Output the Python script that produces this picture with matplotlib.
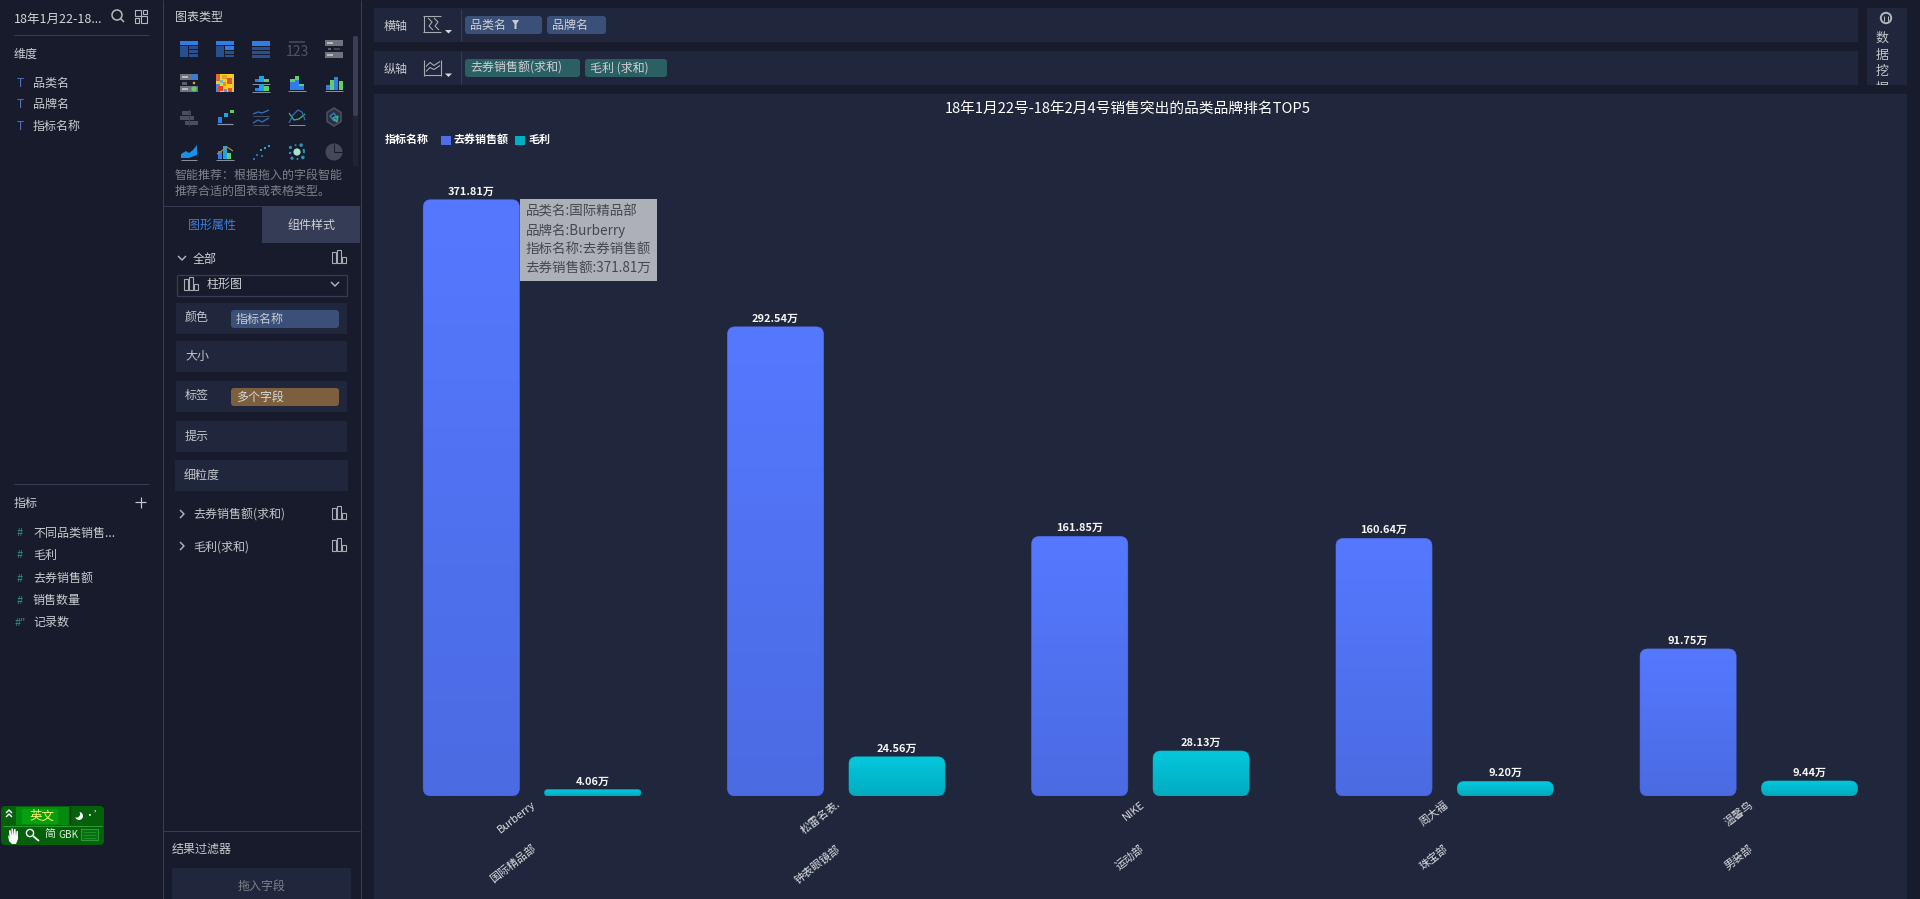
import numpy as np
import matplotlib
matplotlib.use("Agg")
import matplotlib.pyplot as plt
from matplotlib.patches import Rectangle, FancyBboxPatch, Circle, Polygon, Wedge
from matplotlib.transforms import ScaledTranslation

plt.rcParams['font.family'] = ['Noto Sans CJK SC', 'DejaVu Sans']

# ---------- data ----------
categories = ['国际精品部', '钟表眼镜部', '运动部', '珠宝部', '男装部']
brands = ['Burberry', '松雷名表.', 'NIKE', '周大福', '温馨鸟']
sales = [371.81, 292.54, 161.85, 160.64, 91.75]
profit = [4.06, 24.56, 28.13, 9.20, 9.44]
series_names = ['去券销售额', '毛利']
legend_title = '指标名称'
chart_title = '18年1月22号-18年2月4号销售突出的品类品牌排名TOP5'

W, H = 1920, 899
BG = '#181b2b'; PANEL = '#20263b'; LINE = '#363c55'
TXT = '#c9cbd1'; GREY = '#7e818b'

fig = plt.figure(figsize=(W / 100, H / 100), dpi=100, facecolor=BG)
ui = fig.add_axes([0, 0, 1, 1], zorder=0)
ui.set_xlim(0, W); ui.set_ylim(H, 0); ui.axis('off')

def px(s):
    return s * 0.72

def rect(x0, y0, x1, y1, c, z=1, **kw):
    ui.add_patch(Rectangle((x0, y0), x1 - x0, y1 - y0, fc=c, ec='none', zorder=z, **kw))

def rrect(x0, y0, x1, y1, c, r=3, z=2):
    ui.add_patch(FancyBboxPatch((x0, y0), x1 - x0, y1 - y0, boxstyle=f'round,pad=0,rounding_size={r}',
                                fc=c, ec='none', zorder=z))

def txt(x, y, s, c=TXT, size=12, ha='left', weight='normal', z=5):
    return ui.text(x, y + 1.5, s, color=c, fontsize=px(size), ha=ha, va='center', fontweight=weight, zorder=z)

def line(xs, ys, c=LINE, lw=1.0, z=3):
    ui.plot(xs, ys, color=c, lw=lw * 0.72, zorder=z, solid_capstyle='butt')

def bar_icon(cx, cy, c='#a9abb2'):
    for dx, h in [(-5, 11), (0, 13), (5, 6)]:
        ui.add_patch(Rectangle((cx + dx - 1.8, cy + 6 - h), 3.6, h, fc='none', ec=c, lw=0.8, zorder=4))

def chevron_down(cx, cy, c='#b5b7bd', s=4):
    line([cx - s, cx, cx + s], [cy - s / 2, cy + s / 2, cy - s / 2], c, 1.4)

def chevron_right(cx, cy, c='#b5b7bd', s=4):
    line([cx - s / 2, cx + s / 2, cx - s / 2], [cy - s, cy, cy + s], c, 1.4)

# ---------- panels ----------
line([162.5, 162.5], [0, H]); line([360.5, 360.5], [0, H])
line([14, 149], [35, 35]); line([14, 149], [484, 484])
line([163, 360], [206, 206]); line([163, 360], [831, 831])
rect(374, 8, 1858, 42, PANEL); rect(374, 51, 1858, 85, PANEL)
rect(1867, 8, 1907, 85, PANEL); rect(374, 94, 1907, H, PANEL)

# ---------- left column ----------
txt(14, 18, '18年1月22-18...', '#d5d6da', 12.5)
ui.add_patch(Circle((117, 15), 5, fc='none', ec='#b5b7bd', lw=1.1, zorder=4))
line([120.5, 124], [18.5, 22], '#b5b7bd', 1.5)
for (a, b, c_, d) in [(135, 10, 141, 16), (141, 16, 147, 23), (135, 18, 139, 23), (143, 10, 147, 14)]:
    ui.add_patch(Rectangle((a, b), c_ - a, d - b, fc='none', ec='#b5b7bd', lw=0.8, zorder=4))
txt(14, 53, '维度', TXT, 12)
for y, s in zip([82, 103, 125], ['品类名', '品牌名', '指标名称']):
    txt(20, y, 'T', '#4d71b8', 12, ha='center'); txt(33, y, s)
txt(14, 502, '指标', TXT, 12)
line([135, 146], [502, 502], '#c4c6cc', 1.2); line([140.5, 140.5], [496.5, 507.5], '#c4c6cc', 1.2)
for y, s, h in zip([532, 554, 577, 599, 621], ['不同品类销售...', '毛利', '去券销售额', '销售数量', '记录数'],
                   ['#', '#', '#', '#', '#"']):
    txt(20, y, h, '#2f8f88', 11, ha='center'); txt(33, y, s)

# IME bar
rrect(1, 806, 104, 845, '#04600a', 4)
rect(16, 807, 69, 825, '#048a0c', 3)
rect(22, 809, 58, 824, '#05a00f', 3)
line([69.5, 69.5], [807, 825], '#023a06', 1.2, 4)
line([3, 102], [826, 826], '#2c9a34', 1, 4)
txt(42, 814.5, '英文', '#f4f46a', 12.5, ha='center')
for off in (0, 4):
    line([6, 9, 12], [813 + off, 810 + off, 813 + off], '#ffffff', 1.4, 5)
ui.add_patch(Circle((79, 816), 4, fc='#ffffff', zorder=5))
ui.add_patch(Circle((76.5, 814), 3.6, fc='#04600a', zorder=6))
txt(94, 814, '•’', '#ffffff', 10, ha='center')
# hand glyph
ui.add_patch(Polygon([(8, 835), (9, 841), (12, 844), (16, 844), (18, 839), (18, 831), (16.5, 831), (16, 836), (15.5, 829), (14, 829),
                      (13.5, 836), (13, 828.5), (11.5, 828.5), (11.5, 836), (10.5, 830), (9, 830.5), (9.5, 837)],
                     fc='#ffffff', ec='none', zorder=5))
ui.add_patch(Circle((30, 833), 3.6, fc='none', ec='#ffffff', lw=1, zorder=5)); line([33, 39], [836, 841], '#ffffff', 1.8, 5)
txt(50, 833, '简', '#d8f0d8', 11, ha='center'); txt(68, 833.5, 'GBK', '#d8f0d8', 10, ha='center')
ui.add_patch(Rectangle((81, 829), 17, 11, fc='#05700c', ec='#2c9a34', lw=0.8, zorder=5))
for d in (832, 835, 838):
    line([83, 96], [d, d], '#2c9a34', 0.7, 6)

# ---------- chart-type gallery ----------
txt(175, 16, '图表类型', '#d0d1d6', 12)
rect(353, 36, 358, 166, '#1f2335'); rrect(353, 36, 358, 116, '#3a3f55', 2)
cols = [189, 225, 261, 297, 334]; rows = [49, 83, 117, 152]
BLUE = '#2f7de6'; NAVY = '#27508f'; GRN = '#5fcf6a'; SKY = '#19a6e8'; G2 = '#8b8e98'; G3 = '#4a4e5e'

cx, cy = cols[0], rows[0]
rect(cx - 9, cy - 8, cx + 9, cy - 4, BLUE, 4); rect(cx - 9, cy - 3, cx - 1, cy + 8, NAVY, 4)
for d in (-3, 1, 5): rect(cx, cy + d, cx + 9, cy + d + 3, NAVY, 4)
cx = cols[1]
rect(cx - 9, cy - 8, cx + 9, cy - 4, BLUE, 4); rect(cx - 9, cy - 3, cx - 1, cy + 8, NAVY, 4); rect(cx, cy - 3, cx + 9, cy + 1, BLUE, 4)
rect(cx, cy + 2, cx + 9, cy + 5, NAVY, 4); rect(cx, cy + 6, cx + 9, cy + 8, NAVY, 4)
cx = cols[2]
rect(cx - 9, cy - 8, cx + 9, cy - 3, BLUE, 4)
for dx in (-9, -3, 3):
    for d in (-2, 2, 6): rect(cx + dx, cy + d, cx + dx + 5.5, cy + d + 3, NAVY, 4)
cx = cols[3]
line([cx - 8, cx + 8], [cy - 7, cy - 7], G3, 1.5); txt(cx, cy + 1, '123', '#4f5363', 14, ha='center')
cx = cols[4]
rect(cx - 9, cy - 9, cx + 9, cy - 3, '#70737d', 4); rect(cx - 7, cy - 7, cx - 1, cy - 5, '#b8bac0', 5)
rect(cx - 9, cy + 3, cx + 9, cy + 9, '#70737d', 4); rect(cx - 7, cy + 5, cx - 1, cy + 7, '#b8bac0', 5)
rect(cx - 6, cy - 1, cx - 3, cy + 1, '#5c606d', 4); rect(cx, cy - 1, cx + 6, cy + 1, '#3e4252', 4)
cx, cy = cols[0], rows[1]
rect(cx - 9, cy - 9, cx + 9, cy - 3, '#70737d', 4); rect(cx - 9, cy + 3, cx + 9, cy + 9, '#70737d', 4)
ui.add_patch(Circle((cx + 5, cy - 6), 3, fc=BLUE, zorder=5)); ui.add_patch(Circle((cx + 5, cy + 6), 2.6, fc=GRN, zorder=5))
rect(cx - 7, cy - 1, cx - 2, cy + 1.5, '#5c606d', 5); ui.add_patch(Circle((cx + 5, cy), 1.3, fc='#f0a020', zorder=5))
rect(cx - 7, cy - 7, cx - 1, cy - 5, '#b8bac0', 5); rect(cx - 7, cy + 5, cx - 1, cy + 7, '#b8bac0', 5)
cx = cols[1]
rect(cx - 9, cy - 9, cx + 9, cy + 9, '#f6d21c', 4)
for (a, b, c_, d, col) in [(-9, -9, -5, -2, '#e8643a'), (-3, -8, 2, -4, '#e8a030'), (2, -5, 7, 1, '#e5522d'), (-9, 1, -5, 9, '#3f8fe0'), (-7, 3, -2, 8, '#e5452d'),
                           (-2, -1, 1, 3, '#f08a24'), (3, 5, 9, 9, '#e5522d'), (-1, 6, 2, 9, '#6a90d0'), (7, -9, 9, 9, '#d8c840'), (-5, -3, -2, 0, '#6ac0c0')]:
    rect(cx + a, cy + b, cx + c_, cy + d, col, 5)
cx = cols[2]
for dx, up, dn, c_ in [(-6, 3, 3, BLUE), (-2, 6, 7, SKY), (3, 3, 5, GRN)]:
    rect(cx + dx, cy - 1 - up, cx + dx + 4.5, cy - 1, c_, 4); rect(cx + dx, cy + 8 - dn, cx + dx + 4.5, cy + 8, c_, 4)
line([cx - 9, cx + 9], [cy + 0.5, cy + 0.5], G2, 1); line([cx - 9, cx + 9], [cy + 8.5, cy + 8.5], G2, 1)
cx = cols[3]
for dx, a, b in [(-7, 3, 8), (-2.5, 4, 10), (2, 2, 4)]:
    rect(cx + dx, cy + 7 - b, cx + dx + 4.5, cy + 7, BLUE, 4); rect(cx + dx, cy + 7 - b - a, cx + dx + 4.5, cy + 7 - b, GRN, 4)
line([cx - 9, cx + 9], [cy + 8, cy + 8], G2, 1)
cx = cols[4]
for dx, h, c_ in [(-8, 5, BLUE), (-4, 10, GRN), (0, 13, BLUE), (5, 9, GRN)]:
    rect(cx + dx, cy + 7 - h, cx + dx + 3.6, cy + 7, c_, 4)
line([cx - 9, cx + 9], [cy + 8, cy + 8], G2, 1)
cx, cy = cols[0], rows[2]
for d, a, b in [(-6, -7, 2), (-1, -9, 5), (4, -4, 9)]:
    rect(cx + a, cy + d, cx + b, cy + d + 3.5, '#4a4e5e', 4)
line([cx - 0.5, cx - 0.5], [cy - 8, cy + 9], '#3a3e4e', 1, 5)
cx = cols[1]
for (a, b, c_, d, col) in [(-7, 0, -3, 6, BLUE), (-1, -4, 3, 0, SKY), (5, -7, 9, -4, GRN)]:
    rect(cx + a, cy + b, cx + c_, cy + d, col, 4)
line([cx - 8, cx + 8], [cy + 7, cy + 7], G2, 1.2)
cx = cols[2]
line([cx - 8, cx - 3, cx + 1, cx + 8], [cy - 3, cy - 5, cy - 4, cy - 7], '#2d6bb4', 1.4)
line([cx - 8, cx - 3, cx + 1, cx + 8], [cy + 6, cy + 3, cy + 5, cy + 1], '#2d6bb4', 1.4)
line([cx - 8, cx + 8], [cy - 1, cy - 1], G3, 1); line([cx - 8, cx + 8], [cy + 8, cy + 8], G3, 1)
cx = cols[3]
line([cx - 8, cx - 3, cx + 2, cx + 8], [cy - 4, cy + 3, cy + 2, cy - 3], '#3ab37c', 1.3)
line([cx - 8, cx - 4, cx + 1, cx + 5, cx + 8], [cy + 6, cy - 2, cy - 7, cy - 5, cy + 3], '#2d6bb4', 1.3)
line([cx - 8, cx + 8], [cy + 8, cy + 8], G2, 1)
cx = cols[4]
hex_pts = [(cx + 8 * np.sin(a), cy + 9 * np.cos(a)) for a in np.linspace(0, 2 * np.pi, 7)[:-1]]
ui.add_patch(Polygon(hex_pts, fc='#2a2e3e', ec='#4a4e5e', lw=1.2, zorder=4))
ui.add_patch(Polygon([(cx - 4, cy - 1), (cx, cy - 4), (cx + 3, cy + 1), (cx, cy + 4)], fc='none', ec='#2d7bd6', lw=1, zorder=5))
ui.add_patch(Polygon([(cx - 1, cy + 1), (cx + 4, cy - 1), (cx + 3, cy + 5)], fc='none', ec='#3ab37c', lw=1, zorder=5))
cx, cy = cols[0], rows[3]
ui.add_patch(Polygon([(cx - 8, cy + 6), (cx - 8, cy + 2), (cx - 3, cy - 1), (cx, cy + 1), (cx + 4, cy - 2), (cx + 8, cy - 7), (cx + 8, cy + 3), (cx, cy + 6)],
                     fc='#1b8fe6', ec='none', zorder=4))
line([cx - 8, cx + 8], [cy + 8, cy + 8], G2, 1)
cx = cols[1]
for dx, h, c_ in [(-7, 8, BLUE), (-2.5, 13, SKY), (2, 6, GRN)]:
    rect(cx + dx, cy + 7 - h, cx + dx + 4.2, cy + 7, c_, 4)
line([cx - 8, cx - 2, cx + 2, cx + 8], [cy + 2, cy - 2, cy - 5, cy - 1], '#b08a2c', 1.2, 5)
line([cx - 9, cx + 9], [cy + 8, cy + 8], G2, 1)
cx = cols[2]
for dx, dy, c_ in [(-8, 6, '#2d6bb4'), (-5, 2, '#2d6bb4'), (-1, -3, '#3aa0a0'), (0, 3, '#2d6bb4'), (3, -5, '#3aa0a0'), (7, -7, SKY)]:
    rect(cx + dx, cy + dy, cx + dx + 2.2, cy + dy + 2.2, c_, 4)
cx = cols[3]
ui.add_patch(Circle((cx, cy), 3.6, fc='#a6e3cc', zorder=4))
for a, r_, s_ in zip(np.linspace(0, 6, 9), [7, 8, 7, 8, 7, 8, 7, 8, 7], [1.2, 1.8, 1, 1.6, 1.2, 1.6, 1, 1.8, 1.2]):
    ui.add_patch(Circle((cx + r_ * np.cos(a), cy + r_ * np.sin(a)), s_, fc='#2f8fb8', zorder=4))
ui.add_patch(Wedge((cols[4], cy), 8.5, -90, 270, fc='#444858', ec='none', zorder=4))
line([cols[4], cols[4], cols[4] + 8.5], [cy - 8.5, cy, cy], BG, 1, 5)
txt(175, 174, '智能推荐：根据拖入的字段智能', GREY, 12); txt(175, 190, '推荐合适的图表或表格类型。', GREY, 12)

# ---------- properties ----------
rect(262, 206.5, 360, 243, '#353c55')
txt(212, 223.5, '图形属性', '#3d80e0', 12, ha='center'); txt(311, 223.5, '组件样式', '#d0d1d6', 12, ha='center')
chevron_down(182, 258); txt(193, 257.5, '全部', '#d0d1d6', 12); bar_icon(339, 257)
ui.add_patch(Rectangle((176.5, 274.5), 170, 21, fc='none', ec=LINE, lw=0.9, zorder=3))
bar_icon(191, 284); txt(207, 282.5, '柱形图', '#d0d1d6', 12); chevron_down(335, 284)
for y0, y1, s, xa, xb in [(303, 334, '颜色', 176, 347), (341, 372, '大小', 176, 347), (381, 412, '标签', 176, 347),
                          (421, 452, '提示', 176, 347), (460, 491, '细粒度', 175, 348)]:
    rect(xa, y0, xb, y1, PANEL, 1)
    txt(xa + 9, (y0 + y1) / 2 - 2, s, '#c4c6cc', 12)
rrect(231, 310, 339, 328, '#3b5078', 3); txt(236, 317.5, '指标名称', '#c9cbd1', 12)
rrect(231, 388, 339, 406, '#7b5f3e', 3); txt(236, 395.5, '多个字段', '#d8d8d8', 12)
for y, s in [(514, '去券销售额(求和)'), (546, '毛利(求和)')]:
    chevron_right(182, y); txt(193, y - 0.5, s, '#c4c6cc', 12); bar_icon(339, y - 1)
txt(172, 848, '结果过滤器', '#c9cbd1', 12)
rect(172, 868, 351, H, PANEL); txt(261.5, 885, '拖入字段', GREY, 12, ha='center')

# ---------- shelves ----------
def shelf_icon(cx, cy, wavy):
    c = '#a9abb2'
    if wavy:
        line([cx - 8, cx + 9], [cy + 7.5, cy + 7.5], c, 1.1)
        line([cx - 8, cx - 8], [cy - 8, cy + 8], c, 1.1); line([cx + 9, cx + 9], [cy - 8, cy + 8], c, 1.1)
        line([cx - 6, cx - 2, cx + 2, cx + 8], [cy - 1, cy - 5, cy - 2, cy - 6], c, 1.1)
        line([cx - 6, cx - 2, cx + 2, cx + 8], [cy + 4, cy, cy + 2, cy - 2], c, 1.1)
    else:
        line([cx - 9, cx + 9], [cy - 8, cy - 8], c, 1.1); line([cx - 9, cx + 9], [cy + 8, cy + 8], c, 1.1)
        line([cx - 8, cx - 8], [cy - 8, cy + 8], c, 1.1)
        line([cx - 4, cx + 0, cx - 3, cx + 1], [cy - 6, cy - 2, cy + 2, cy + 6], c, 1.1)
        line([cx + 2, cx + 6, cx + 3, cx + 7], [cy - 6, cy - 2, cy + 2, cy + 6], c, 1.1)
    ui.add_patch(Polygon([(cx + 13, cy + 6), (cx + 20, cy + 6), (cx + 16.5, cy + 9.5)], fc='#d8d8d8', ec='none', zorder=4))

txt(384, 24.5, '横轴', '#c9cbd1', 12); txt(384, 67.5, '纵轴', '#c9cbd1', 12)
shelf_icon(432, 24, False); shelf_icon(432, 67.5, True)
line([460.5, 460.5], [9, 41]); line([460.5, 460.5], [52, 84])
rrect(465, 16, 542, 34, '#3b5078'); txt(470, 23.5, '品类名', '#d0d1d6', 12)
ui.add_patch(Polygon([(512, 20), (519, 20), (516.5, 24), (516.5, 29), (514.5, 29), (514.5, 24)], fc='#c9cbd1', ec='none', zorder=5))
rrect(547, 16, 606, 34, '#3b5078'); txt(552, 23.5, '品牌名', '#d0d1d6', 12)
rrect(465, 59, 580, 77, '#2a5f63'); txt(470, 66.5, '去券销售额(求和)', '#d0d1d6', 12)
rrect(585, 59, 667, 77, '#2a5f63'); txt(590, 66.5, '毛利 (求和)', '#d0d1d6', 12)
ui.add_patch(Circle((1886, 18), 5.2, fc='none', ec='#b5b7bd', lw=1.4, zorder=4))
line([1884, 1884], [16, 21], '#b5b7bd', 1); line([1888, 1888], [16, 21], '#b5b7bd', 1)
for y, s in zip([37, 54, 70], '数据挖'):
    txt(1882, y, s, '#c4c6cc', 13, ha='center')
t = txt(1882, 86.5, '掘', '#c4c6cc', 13, ha='center')
t.set_clip_on(True)
t.set_clip_path(Rectangle((1867, 8), 40, 77, transform=ui.transData))

# ---------- chart ----------
PX_PER_UNIT = 596.5 / 371.81
GROUP_PX = 304.2
L, R, B, T = 374, 1907, 796, 150
ax = fig.add_axes([L / W, 1 - B / H, (R - L) / W, (B - T) / H], zorder=2)
ax.patch.set_alpha(0)
for s in ax.spines.values():
    s.set_visible(False)
x0 = (L - 532) / GROUP_PX
x1 = (R - 532) / GROUP_PX
y1 = (B - T) / PX_PER_UNIT
ASPECT = GROUP_PX / PX_PER_UNIT
RADIUS = 8 / GROUP_PX
xpos = np.arange(len(categories))
offset, width = 0.1995, 0.317
grads = [('#5578ff', '#4b6be2'), ('#05c9dd', '#02abc0')]

def gradient_bars(xs, vals, cols_):
    bars = ax.bar(xs, vals, width, color=cols_[1], zorder=2)
    g = np.linspace(0, 1, 64)[:, None, None]
    top = np.array(matplotlib.colors.to_rgb(cols_[0])); bot = np.array(matplotlib.colors.to_rgb(cols_[1]))
    for r in bars:
        bx, w_, h_ = r.get_x(), r.get_width(), r.get_height()
        rr = min(RADIUS, h_ * PX_PER_UNIT / 2 / GROUP_PX)
        clip = FancyBboxPatch((bx, 0), w_, h_, boxstyle=f'round,pad=0,rounding_size={rr}', mutation_aspect=ASPECT,
                              fc='none', ec=bot * 0.85, lw=0.3, zorder=4)
        ax.add_patch(clip)
        r.set_clip_path(clip)
        img = ax.imshow(top * (1 - g) + bot * g, extent=(bx, bx + w_, 0, h_), aspect='auto', zorder=3, interpolation='bilinear')
        img.set_clip_path(clip)
    return bars

b1 = gradient_bars(xpos - offset, sales, grads[0])
b2 = gradient_bars(xpos + offset, profit, grads[1])
ax.set_xlim(x0, x1); ax.set_ylim(0, y1)
ax.set_yticks([])
ax.set_xticks(xpos, brands, rotation=38, ha='right', va='top', color='#dcdde1', fontsize=px(11))
ax.tick_params(axis='x', length=0, pad=px(3))
shift = ScaledTranslation(6 / 100, 0, fig.dpi_scale_trans)
for lab in ax.get_xticklabels():
    lab.set_transform(lab.get_transform() + shift)
for xp, cat in zip(xpos, categories):
    ax.annotate(cat, xy=(xp, 0), xycoords='data', xytext=(6, -47), textcoords='offset pixels', rotation=38,
                ha='right', va='top', color='#dcdde1', fontsize=px(11), annotation_clip=False)

for bars, vals in ((b1, sales), (b2, profit)):
    for r, v in zip(bars, vals):
        ax.annotate(f'{v:.2f}万', xy=(r.get_x() + r.get_width() / 2, v), xytext=(0, 3), textcoords='offset pixels',
                    ha='center', va='bottom', color='#f6f6f6', fontsize=px(11), fontweight='bold', zorder=6)

ax.annotate('\n'.join([f'品类名:{categories[0]}', f'品牌名:{brands[0]}', f'指标名称:{series_names[0]}', f'{series_names[0]}:{sales[0]:.2f}万']),
            xy=(b1[0].get_x() + b1[0].get_width(), sales[0]), xytext=(6, -5), textcoords='offset pixels',
            ha='left', va='top', color='#45484f', fontsize=px(13.5), linespacing=1.42, zorder=10,
            bbox=dict(boxstyle='square,pad=0.44', fc='#aeb0b8', ec='none'))

fig.text(1128 / W, 1 - 109 / H, chart_title, color='#ffffff', fontsize=px(14.7), ha='center', va='center', zorder=6)
fig.text(385 / W, 1 - 139.5 / H, legend_title, color='#ffffff', fontsize=px(11), fontweight='bold', ha='left', va='center', zorder=6)
for sx, col, name in zip([441, 515], ['#4f6ee8', '#04afc4'], series_names):
    rect(sx, 135.5, sx + 9.5, 145, col, 6)
    fig.text((sx + 13) / W, 1 - 139.5 / H, name, color='#ffffff', fontsize=px(11), fontweight='bold', ha='left', va='center', zorder=6)

fig.savefig('out.png', dpi=100, facecolor=BG)
